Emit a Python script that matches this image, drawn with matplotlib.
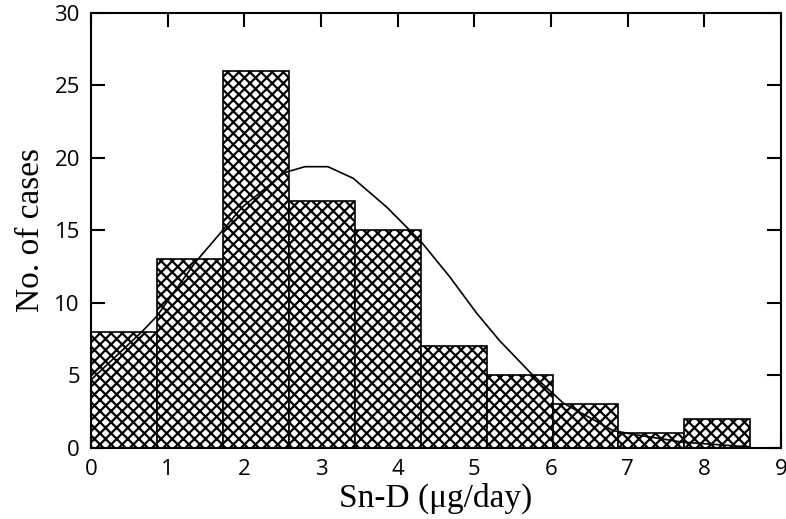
import matplotlib
matplotlib.use("Agg")
import matplotlib.pyplot as plt

# histogram bins (Sn-D, ug/day) and counts
bin_edges = [0, 0.86, 1.72, 2.58, 3.44, 4.30, 5.16, 6.02, 6.88, 7.74, 8.60]
counts = [8, 13, 26, 17, 15, 7, 5, 3, 1, 2]

# fitted curve
curve_x = [0.0, 0.66, 0.86, 1.36, 1.70, 1.97, 2.53, 2.79, 3.09, 3.42, 3.86,
           4.31, 4.68, 5.03, 5.33, 5.73, 6.16, 6.81, 7.12, 7.72, 8.60]
curve_y = [4.7, 8.0, 9.1, 12.8, 14.9, 16.6, 19.0, 19.4, 19.4, 18.6, 16.6,
           14.2, 11.8, 9.3, 7.4, 5.2, 3.1, 1.2, 0.9, 0.4, 0.07]

plt.rcParams['hatch.linewidth'] = 1.6

fig = plt.figure(figsize=(7.86, 5.19), dpi=100)
ax = fig.add_axes([0.1158, 0.1368, 0.8778, 0.8382])

widths = [bin_edges[i + 1] - bin_edges[i] for i in range(len(counts))]
ax.bar(bin_edges[:-1], counts, width=widths, align='edge', color='white',
       edgecolor='black', linewidth=1.2, hatch='xxx', zorder=2)
ax.plot(curve_x, curve_y, color='black', linewidth=1.2, zorder=3)

ax.set_xlim(0, 9)
ax.set_ylim(0, 30)
ax.set_xticks(range(0, 10))
ax.set_yticks(range(0, 31, 5))
ax.tick_params(direction='in', length=10, width=1.5, top=True, right=True,
               labelsize=16, pad=8)
for lab in ax.get_xticklabels() + ax.get_yticklabels():
    lab.set_family('Open Sans')
for s in ax.spines.values():
    s.set_linewidth(1.5)

ax.set_xlabel("Sn-D (\u03bcg/day)", family='Liberation Serif', fontsize=24, labelpad=2)
ax.set_ylabel("No. of cases", family='Liberation Serif', fontsize=24, labelpad=6)

fig.savefig("out.png", dpi=100)
